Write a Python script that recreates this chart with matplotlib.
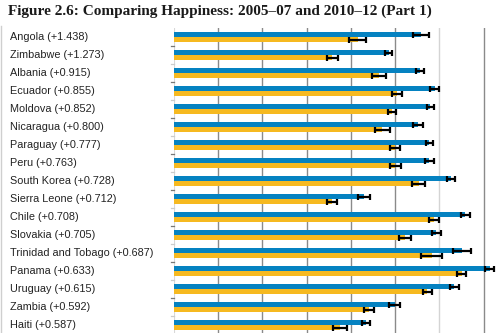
import matplotlib
matplotlib.use("Agg")
import matplotlib.pyplot as plt
import numpy as np

countries = ["Angola (+1.438)", "Zimbabwe (+1.273)", "Albania (+0.915)", "Ecuador (+0.855)",
             "Moldova (+0.852)", "Nicaragua (+0.800)", "Paraguay (+0.777)", "Peru (+0.763)",
             "South Korea (+0.728)", "Sierra Leone (+0.712)", "Chile (+0.708)", "Slovakia (+0.705)",
             "Trinidad and Tobago (+0.687)", "Panama (+0.633)", "Uruguay (+0.615)",
             "Zambia (+0.592)", "Haiti (+0.587)"]
score_2010_12 = [5.589, 4.853, 5.550, 5.890, 5.790, 5.510, 5.770, 5.765, 6.260, 4.290,
                 6.580, 5.930, 6.510, 7.130, 6.335, 4.990, 4.340]
score_2005_07 = [4.151, 3.580, 4.635, 5.035, 4.938, 4.710, 4.993, 5.002, 5.532, 3.578,
                 5.872, 5.225, 5.823, 6.497, 5.720, 4.398, 3.753]
err_2010_12 = [0.177, 0.080, 0.090, 0.095, 0.080, 0.110, 0.075, 0.100, 0.080, 0.140,
               0.105, 0.095, 0.210, 0.094, 0.095, 0.120, 0.100]
err_2005_07 = [0.199, 0.130, 0.150, 0.110, 0.090, 0.170, 0.110, 0.130, 0.150, 0.110,
               0.120, 0.130, 0.230, 0.110, 0.100, 0.113, 0.160]
grid_values = [1, 2, 3, 4, 5, 6, 7]

BLUE = "#0582C1"
YELLOW = "#F6B920"

fig = plt.figure(figsize=(5, 3.33), dpi=100)
W, H = 500, 333
ax_left = 173.7 / W
ax_top = 1 - 28 / H
ax = fig.add_axes([ax_left, 0, 1 - ax_left, ax_top])

n = len(countries)
y = np.arange(n)
bh = 0.278

for gv in grid_values:
    col = "#d4d4d4" if gv == 6 else "#8a8a8a"
    ax.axvline(gv, color=col, lw=1.0, zorder=0)
ax.axvline(0, color="#d8d8d8", lw=0.8, zorder=0)

ax.barh(y - bh / 2, score_2010_12, height=bh, color=BLUE, zorder=2)
ax.barh(y + bh / 2, score_2005_07, height=bh, color=YELLOW, zorder=2)
ax.errorbar(score_2010_12, y - bh / 2, xerr=err_2010_12, fmt="none", ecolor="black",
            elinewidth=1.6, capsize=2.4, capthick=1.6, zorder=3)
ax.errorbar(score_2005_07, y + bh / 2, xerr=err_2005_07, fmt="none", ecolor="black",
            elinewidth=1.6, capsize=2.4, capthick=1.6, zorder=3)

ax.set_xlim(0, (W - 173.7) / 44.3)
ax.set_ylim((H - 37.3) / 18, -(37.3 - 28) / 18)
for s in ax.spines.values():
    s.set_visible(False)
ax.set_xticks([])
ax.set_yticks([])

# small ticks at category boundaries on the left
for i in range(n):
    b = i + 0.5
    col = "#777777" if i % 2 == 0 else "#cccccc"
    ax.plot([-0.07, 0], [b, b], color=col, lw=0.9, clip_on=False, zorder=1)

for i, c in enumerate(countries):
    yp = (37.3 + 18 * i) / H
    fig.text(10 / W, 1 - yp, c, ha="left", va="center", fontsize=7.8,
             family="Liberation Sans", color="#222222")

fig.text(8 / W, 1 - 11 / H, "Figure 2.6: Comparing Happiness: 2005\u201307 and 2010\u201312 (Part 1)",
         ha="left", va="center", fontsize=11, family="Liberation Serif",
         fontweight="bold", color="#1a1a1a")

# left border line
fig.add_artist(plt.Line2D([1 / W, 1 / W], [0, 1 - 26 / H], color="#cfcfcf", lw=1.0))

fig.savefig("out.png", dpi=100, facecolor="white")
